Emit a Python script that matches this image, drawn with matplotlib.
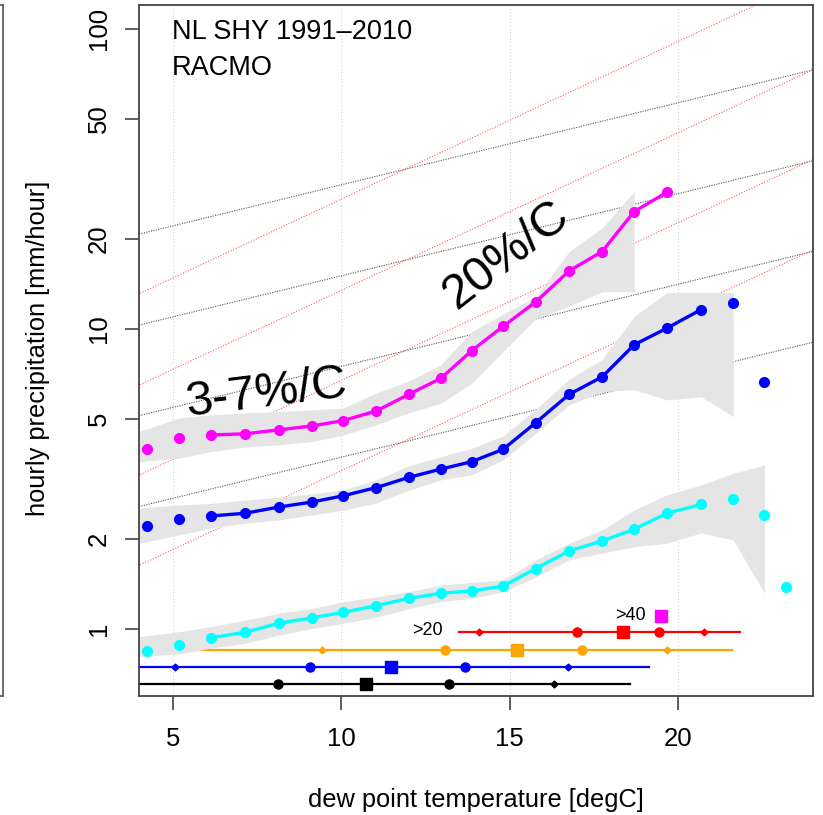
import numpy as np
import matplotlib
matplotlib.use("Agg")
import matplotlib.pyplot as plt

plt.rcParams['font.family'] = ['Liberation Sans', 'DejaVu Sans']

# dew point bins (degC)
temps = [4.22, 5.19, 6.12, 7.14, 8.15, 9.14, 10.06, 11.04, 12.0, 12.95, 13.87,
         14.8, 15.77, 16.76, 17.74, 18.69, 19.66, 20.68, 21.63, 22.56, 23.19]

# percentile curves (mm/hour)
p_magenta = [3.97, 4.32, 4.43, 4.47, 4.61, 4.75, 4.95, 5.33, 6.05, 6.84, 8.46,
             10.2, 12.3, 15.6, 18.1, 24.6, 28.5]
p_blue = [2.21, 2.32, 2.38, 2.43, 2.55, 2.65, 2.78, 2.96, 3.2, 3.41, 3.61,
          3.97, 4.87, 6.05, 6.92, 8.85, 10.05, 11.6, 12.2, 6.67]
p_cyan = [0.847, 0.885, 0.935, 0.975, 1.045, 1.09, 1.137, 1.196, 1.265, 1.315,
          1.339, 1.39, 1.59, 1.82, 1.965, 2.15, 2.43, 2.6, 2.72, 2.40, 1.38]

# uncertainty bands
band_temps = [4.0] + temps[1:]
mag_hi = [4.55, 5.05, 5.17, 5.25, 5.30, 5.37, 5.45, 6.12, 6.7, 7.6, 9.8, 11.2,
          12.8, 18.1, 21.7, 28.7]
mag_lo = [3.61, 3.71, 3.90, 4.04, 4.11, 4.21, 4.43, 4.79, 5.25, 5.65, 6.6, 8.4,
          10.8, 11.9, 13.3, 13.3]
blue_hi = [2.53, 2.59, 2.62, 2.69, 2.75, 2.82, 2.91, 3.14, 3.5, 3.75, 4.0, 4.4,
           5.4, 6.8, 7.9, 11.0, 13.2, 13.2, 13.2]
blue_lo = [1.93, 2.06, 2.17, 2.25, 2.31, 2.40, 2.49, 2.63, 2.9, 3.14, 3.26, 3.66,
           4.49, 5.58, 6.18, 6.27, 5.8, 5.94, 5.1]
cyan_hi = [0.943, 0.98, 1.018, 1.07, 1.128, 1.172, 1.233, 1.28, 1.33, 1.40, 1.43,
           1.456, 1.70, 1.93, 2.14, 2.49, 2.80, 3.02, 3.30, 3.52]
cyan_lo = [0.809, 0.826, 0.863, 0.896, 0.955, 1.005, 1.045, 1.094, 1.17, 1.233,
           1.265, 1.33, 1.49, 1.70, 1.79, 1.88, 1.93, 2.09, 1.98, 1.315]

# scaling reference lines: values at 4 degC and growth rate (ln per degC)
cc_start = [2.56, 5.14, 10.3, 20.7]
cc_rate = 0.063
cc2_start = [1.63, 3.26, 6.5, 13.1]
cc2_rate = 0.121

# dew point distributions at bottom: line range, 5/25/50/75/95 percentiles
dist_colors = ['black', 'blue', 'orange', 'red']
dist_level = [0.656, 0.749, 0.851, 0.975]
dist_range = [(2.0, 18.57), (2.5, 19.12), (5.0, 21.61), (13.48, 21.83)]
dist_pct = [(3.0, 8.13, 10.72, 13.18, 16.32),
            (5.05, 9.08, 11.47, 13.66, 16.74),
            (9.42, 13.08, 15.22, 17.13, 19.67),
            (14.09, 16.98, 18.37, 19.44, 20.77)]
top_median = (19.49, 1.105)

fig = plt.figure(figsize=(8.23, 8.15), dpi=100)
ax = fig.add_axes([139/823, 1-696/815, 674/823, 691/815])

# bit of neighbouring panel on the left
axl = fig.add_axes([-0.3, 1-696/815, 0.3+3/823, 691/815])
axl.set_xticks([])
axl.set_yticks([])
for s in axl.spines.values():
    s.set_color('#555555')
    s.set_linewidth(1.2)

ax.set_yscale('log')
ax.set_xlim(3.99, 24.0)
ax.set_ylim(0.598, 120)

for xv in [5, 10, 15, 20]:
    ax.axvline(xv, color='lightgray', ls=(0, (1, 2)), lw=0.8, zorder=0.5)

tt = np.array([3.5, 24.5])
for v in cc_start:
    ax.plot(tt, v*np.exp(cc_rate*(tt-4)), color='#555555', ls=(0, (1, 1.2)), lw=0.8, zorder=1)
for v in cc2_start:
    ax.plot(tt, v*np.exp(cc2_rate*(tt-4)), color='#ff5a5a', ls=(0, (1, 1.5)), lw=0.8, zorder=1)

for i, c in enumerate(dist_colors):
    lo, hi = dist_range[i]
    y = dist_level[i]
    p05, p25, p50, p75, p95 = dist_pct[i]
    ax.plot([lo, hi], [y, y], color=c, lw=1.6, zorder=1.5, clip_on=True)
    ax.plot([p05, p95], [y, y], 'D', color=c, ms=3.5, zorder=1.6)
    ax.plot([p25, p75], [y, y], 'o', color=c, ms=6.5, zorder=1.6)
    ax.plot([p50], [y], 's', color=c, ms=9, zorder=1.6)
ax.plot([top_median[0]], [top_median[1]], 's', color='magenta', ms=9, zorder=1.6)
ax.text(13.02, 0.99, '>20', ha='right', va='center', fontsize=13)
ax.text(19.04, 1.113, '>40', ha='right', va='center', fontsize=13)

band_col = '#e5e5e5'
ax.fill_between(band_temps[:len(mag_hi)], mag_lo, mag_hi, color=band_col, lw=0, zorder=2)
ax.fill_between(band_temps[:len(blue_hi)], blue_lo, blue_hi, color=band_col, lw=0, zorder=2)
ax.fill_between(band_temps[:len(cyan_hi)], cyan_lo, cyan_hi, color=band_col, lw=0, zorder=2)

for vals, c in [(p_magenta, 'magenta'), (p_blue, 'blue'), (p_cyan, 'cyan')]:
    n = len(vals)
    ax.plot(temps[:n], vals, 'o', color=c, ms=7, zorder=4)
    ax.plot(temps[2:min(n, 18)], vals[2:min(n, 18)], '-', color=c, lw=2.4, zorder=3.5)

ax.text(7.75, 6.1, '3-7%/C', fontsize=35, rotation=7, ha='center', va='center', zorder=5)
ax.text(14.9, 17.6, '20%/C', fontsize=35, rotation=38, ha='center', va='center', zorder=5)

ax.text(0.049, 0.961, 'NL SHY 1991\u20132010', transform=ax.transAxes,
        fontsize=19.5, ha='left', va='center')
ax.text(0.049, 0.909, 'RACMO', transform=ax.transAxes,
        fontsize=19.5, ha='left', va='center')

ax.set_yticks([1, 2, 5, 10, 20, 50, 100])
ax.set_yticklabels(['1', '2', '5', '10', '20', '50', '100'], rotation=90, va='center')
ax.yaxis.set_minor_locator(matplotlib.ticker.NullLocator())
ax.set_xticks([5, 10, 15, 20])
ax.tick_params(axis='both', length=10, width=1.1, labelsize=18.5, color='#333333')
ax.tick_params(axis='x', pad=12)
ax.tick_params(axis='y', pad=10)
for s in ax.spines.values():
    s.set_color('#444444')
    s.set_linewidth(1.3)

fig.text(476/823, 1-800/815, 'dew point temperature [degC]', fontsize=18.3,
         ha='center', va='center')
fig.text(38/823, 1-348/815, 'hourly precipitation [mm/hour]', fontsize=18.3,
         ha='center', va='center', rotation=90)

fig.savefig('out.png', dpi=100)
